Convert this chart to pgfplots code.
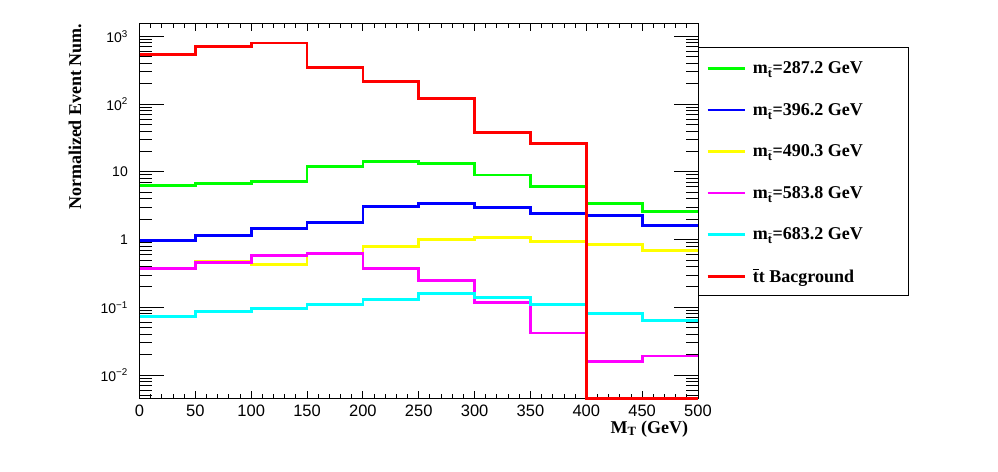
\documentclass[border=0pt]{standalone}
\usepackage{fontspec}
\setmainfont{Liberation Serif}
\newfontfamily\hel{Liberation Sans}
\usepackage{amsmath}
\usepackage{pgfplots}
\usepackage{pgfplotstable}
\pgfplotsset{compat=1.18}
\definecolor{rgreen}{RGB}{0,255,0}
\definecolor{rblue}{RGB}{0,0,255}
\definecolor{ryellow}{RGB}{255,255,0}
\definecolor{rmagenta}{RGB}{255,0,255}
\definecolor{rcyan}{RGB}{0,255,255}
\definecolor{rred}{RGB}{255,0,0}
% bin left edges; last row repeats the last bin for the step end
\pgfplotstableread{
x   green  blue   yellow  magenta  cyan    red
0   6.27   0.976  0.37    0.373    0.0738  538
50  6.70   1.146  0.483   0.457    0.0865  709
100 7.15   1.47   0.428   0.581    0.0968  794
150 11.9   1.80   0.61    0.621    0.110   348
200 14.2   3.10   0.788   0.377    0.130   215
250 13.2   3.43   1.00    0.248    0.160   120
300 9.0    3.00   1.07    0.117    0.139   37.9
350 6.1    2.44   0.934   0.0416   0.110   26.4
400 3.43   2.26   0.843   0.0158   0.081   0.00454
450 2.62   1.61   0.688   0.0191   0.0637  0.00454
500 2.62   1.61   0.688   0.0191   0.0637  0.00454
}\histdata
\begin{document}
\begin{tikzpicture}
\useasboundingbox (0,0) rectangle (998pt,471pt);
% x axis ticks and labels
\begin{axis}[
  at={(139.5pt,72.7pt)}, anchor=south west,
  scale only axis, width=558.5pt, height=375pt,
  xmin=0, xmax=500, ymode=log, ymin=0.00454, ymax=1556,
  xtick={0,50,...,500}, minor x tick num=4,
  ytick=\empty, yminorticks=false,
  xtick pos=both, tick align=inside,
  major tick length=7.7pt, minor tick length=4.3pt,
  tick style={line width=0.9pt, black},
  axis line style={line width=1pt},
  /pgf/number format/assume math mode=true,
  xticklabel style={font=\hel\fontsize{16.5}{18}\selectfont, anchor=base, inner sep=0pt, yshift=-17.7pt},
  xlabel={\bfseries M\textsubscript{T} (GeV)},
  every axis x label/.style={at={(rel axis cs:0.9826,-0.0933)}, anchor=base east, font=\fontsize{18}{20}\selectfont, inner sep=0pt},
]
\end{axis}
% y axis, data and legend
\begin{axis}[
  at={(139.5pt,72.7pt)}, anchor=south west,
  scale only axis, width=558.5pt, height=375pt,
  xmin=0, xmax=500, ymode=log, ymin=0.00454, ymax=1556,
  xtick=\empty,
  ytick={0.01,0.1,1,10,100,1000},
  minor ytick={0.005,0.006,0.007,0.008,0.009,
    0.02,0.03,0.04,0.05,0.06,0.07,0.08,0.09,
    0.2,0.3,0.4,0.5,0.6,0.7,0.8,0.9,
    2,3,4,5,6,7,8,9,
    20,30,40,50,60,70,80,90,
    200,300,400,500,600,700,800,900},
  yticklabels={10\textsuperscript{−2},10\textsuperscript{−1},1,10,10\textsuperscript{2},10\textsuperscript{3}},
  ytick pos=both, tick align=inside,
  major tick length=24pt, minor tick length=12pt,
  tick style={line width=0.9pt, black},
  axis line style={line width=1pt},
  yticklabel style={font=\hel\fontsize{14}{16}\selectfont, anchor=east, inner sep=0pt, xshift=-11.5pt},
  ylabel={\bfseries Normalized Event Num.},
  every axis y label/.style={at={(rel axis cs:-0.1155,1)}, rotate=90, anchor=east, font=\fontsize{18}{20}\selectfont, inner sep=0pt},
  clip=false,
  legend style={at={(1,0.936)}, anchor=north west, draw=none, fill=none,
    inner xsep=8pt, inner ysep=0pt, row sep=0pt,
    nodes={inner sep=0pt, minimum height=41.6pt, anchor=west, font=\bfseries\fontsize{18}{20}\selectfont}},
  legend cell align=left,
  legend image code/.code={\draw[#1, line width=2.7pt] (0pt,0pt) -- (37pt,0pt); \path (44pt,0pt);},
  every axis plot/.append style={line width=2.7pt, const plot mark left, mark=none},
]
\addplot[rgreen] table[x=x, y=green] {\histdata};
\addlegendentry{m\textsubscript{$\tilde{\text{t}}$}=287.2 GeV}
\addplot[rblue] table[x=x, y=blue] {\histdata};
\addlegendentry{m\textsubscript{$\tilde{\text{t}}$}=396.2 GeV}
\addplot[ryellow] table[x=x, y=yellow] {\histdata};
\addlegendentry{m\textsubscript{$\tilde{\text{t}}$}=490.3 GeV}
\addplot[rmagenta] table[x=x, y=magenta] {\histdata};
\addlegendentry{m\textsubscript{$\tilde{\text{t}}$}=583.8 GeV}
\addplot[rcyan] table[x=x, y=cyan] {\histdata};
\addlegendentry{m\textsubscript{$\tilde{\text{t}}$}=683.2 GeV}
\addplot[rred] table[x=x, y=red] {\histdata};
\addlegendentry{$\overline{\text{t}}$t Bacground}
\end{axis}
\draw[line width=1pt] (698pt,175pt) rectangle (908pt,423.7pt);
\end{tikzpicture}
\end{document}
